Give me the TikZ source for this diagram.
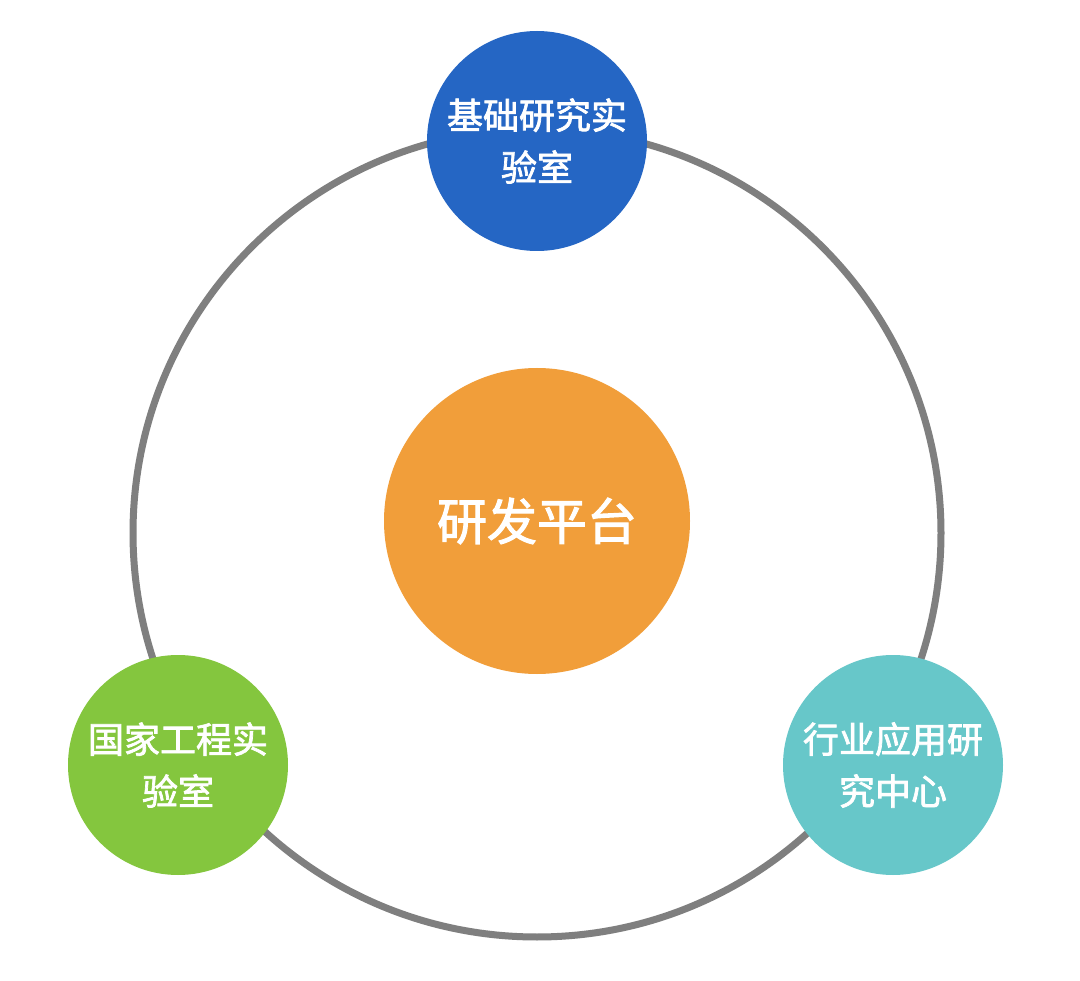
\documentclass[tikz,border=0pt]{standalone}
\usepackage{fontspec}
\setmainfont{Noto Sans CJK SC}[FakeBold=2]
\definecolor{ringgray}{HTML}{7F7F7F}
\definecolor{cblue}{HTML}{2566C4}
\definecolor{corange}{HTML}{F19E3A}
\definecolor{cgreen}{HTML}{84C63E}
\definecolor{cteal}{HTML}{67C7C9}
\begin{document}
\begin{tikzpicture}[x=1pt,y=-1pt,
  sat/.style={circle,minimum size=220pt,inner sep=0pt,text=white,align=center,
    font=\fontsize{36}{52}\selectfont},
  hub/.style={circle,minimum size=306pt,inner sep=0pt,text=white,
    font=\fontsize{50}{60}\selectfont}]
\useasboundingbox (0,0) rectangle (1080,981);
\fill[white] (0,0) rectangle (1080,981);
\coordinate (c) at (537,533);
\draw[ringgray,line width=7pt] (c) circle[radius=404];
\node[hub,fill=corange] (hub) at (537,521) {研发平台};
\node[sat,fill=cblue] (a) at (537,141) {基础研究实\\验室};
\node[sat,fill=cgreen] (b) at (178,765) {国家工程实\\验室};
\node[sat,fill=cteal] (d) at (893,765) {行业应用研\\究中心};
\end{tikzpicture}
\end{document}
